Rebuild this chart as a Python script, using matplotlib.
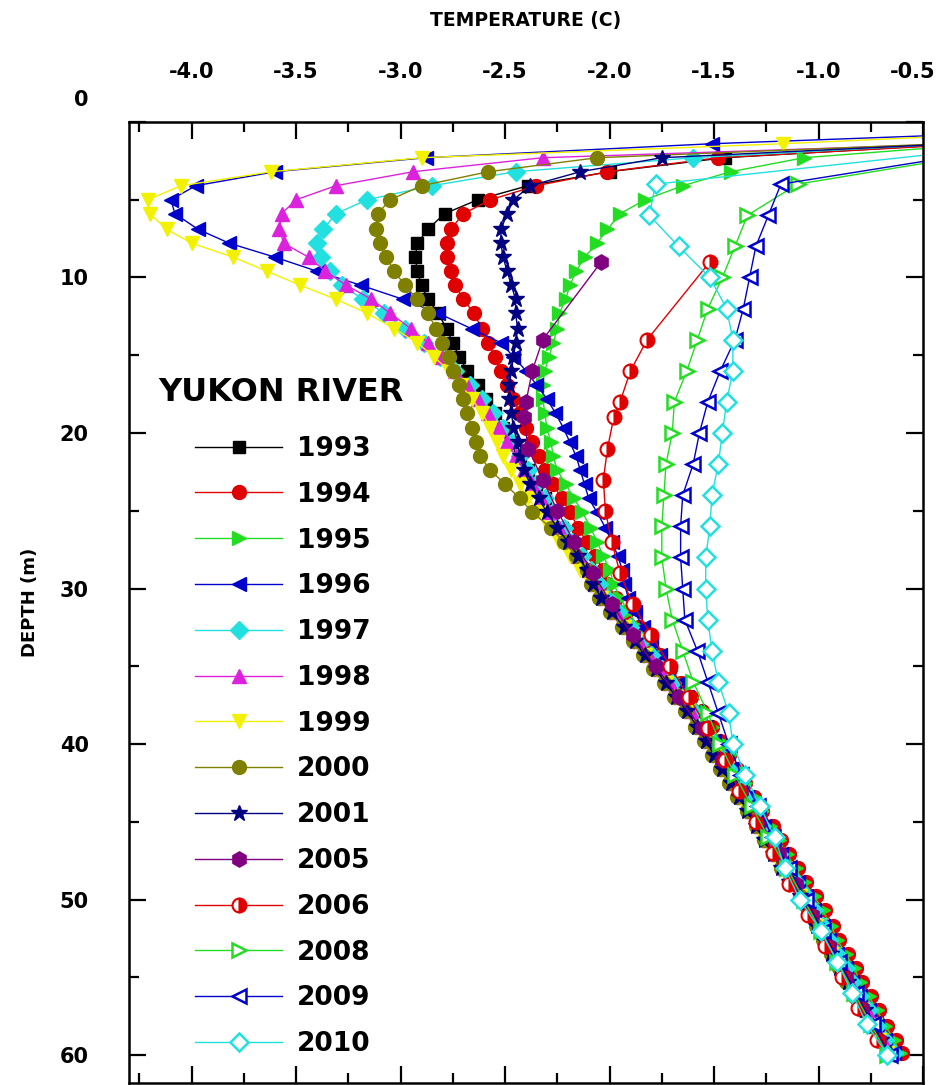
import matplotlib
matplotlib.use('Agg')
import matplotlib.pyplot as plt
from matplotlib.ticker import MultipleLocator, FixedLocator
from matplotlib.transforms import ScaledTranslation

plt.rcParams['font.family'] = ['DejaVu Sans']
plt.rcParams['font.weight'] = 'bold'
plt.rcParams['axes.unicode_minus'] = False

# sample depths (m)
depth_dense = [0.5, 1.4, 2.3, 3.2, 4.1, 5.0, 5.9, 6.9, 7.8, 8.7, 9.6, 10.5, 11.4, 12.3, 13.3, 14.2,
               15.1, 16.0, 16.9, 17.8, 18.7, 19.7, 20.6, 21.5, 22.4, 23.3, 24.2, 25.1, 26.1, 27.0, 27.9, 28.8,
               29.7, 30.6, 31.5, 32.5, 33.4, 34.3, 35.2, 36.1, 37.0, 37.9, 38.9, 39.8, 40.7, 41.6, 42.5, 43.4,
               44.3, 45.3, 46.2, 47.1, 48.0, 48.9, 49.8, 50.7, 51.7, 52.6, 53.5, 54.4, 55.3, 56.2, 57.1, 58.1,
               59.0, 59.9]
depth_0506 = [9, 14, 16, 18, 19, 21, 23, 25, 27, 29, 31, 33, 35, 37, 39, 41, 43, 45, 47, 49, 51, 53, 55, 57, 59]
depth_2m = [2, 4, 6, 8, 10, 12, 14, 16, 18, 20, 22, 24, 26, 28, 30, 32, 34, 36, 38, 40,
            42, 44, 46, 48, 50, 52, 54, 56, 58, 60]

# temperatures (C)
t_1993 = [0.5, -0.3, -1.45, -2.0, -2.39, -2.63, -2.79, -2.87, -2.92, -2.93, -2.92, -2.90, -2.87, -2.82, -2.78, -2.75,
          -2.72, -2.68, -2.63, -2.59, -2.55, -2.51, -2.47, -2.43, -2.39, -2.35, -2.31, -2.27, -2.23, -2.18, -2.14, -2.10,
          -2.07, -2.02, -1.97, -1.91, -1.86, -1.81, -1.76, -1.71, -1.66, -1.61, -1.56, -1.52, -1.48, -1.44, -1.40, -1.36,
          -1.32, -1.28, -1.24, -1.20, -1.16, -1.12, -1.07, -1.03, -0.99, -0.96, -0.92, -0.88, -0.85, -0.81, -0.77, -0.73,
          -0.69, -0.65]
t_1994 = [0.5, -0.25, -1.48, -2.01, -2.35, -2.57, -2.70, -2.76, -2.78, -2.78, -2.76, -2.74, -2.70, -2.65, -2.61, -2.58,
          -2.55, -2.52, -2.49, -2.46, -2.43, -2.40, -2.37, -2.34, -2.31, -2.27, -2.23, -2.19, -2.15, -2.11, -2.07, -2.03,
          -2.01, -1.97, -1.92, -1.86, -1.81, -1.76, -1.71, -1.66, -1.61, -1.56, -1.51, -1.47, -1.43, -1.39, -1.35, -1.31,
          -1.27, -1.22, -1.18, -1.14, -1.10, -1.06, -1.01, -0.97, -0.93, -0.90, -0.86, -0.82, -0.79, -0.75, -0.71, -0.67,
          -0.63, -0.60]
t_1995 = [0.6, -0.2, -1.07, -1.42, -1.65, -1.83, -1.95, -2.01, -2.06, -2.12, -2.16, -2.19, -2.21, -2.24, -2.25, -2.27,
          -2.29, -2.31, -2.32, -2.32, -2.31, -2.30, -2.28, -2.27, -2.25, -2.21, -2.17, -2.13, -2.09, -2.06, -2.03, -2.00,
          -1.98, -1.95, -1.91, -1.86, -1.81, -1.76, -1.71, -1.66, -1.61, -1.56, -1.51, -1.47, -1.43, -1.39, -1.35, -1.31,
          -1.27, -1.23, -1.19, -1.15, -1.11, -1.07, -1.02, -0.98, -0.94, -0.91, -0.87, -0.83, -0.80, -0.76, -0.72, -0.68,
          -0.64, -0.61]
t_1996 = [0.3, -1.51, -2.88, -3.60, -3.98, -4.10, -4.08, -3.97, -3.82, -3.60, -3.40, -3.19, -2.99, -2.82, -2.66, -2.52,
          -2.46, -2.40, -2.35, -2.30, -2.26, -2.22, -2.19, -2.16, -2.14, -2.12, -2.10, -2.06, -2.02, -1.99, -1.96, -1.94,
          -1.93, -1.91, -1.88, -1.84, -1.80, -1.76, -1.72, -1.67, -1.63, -1.58, -1.54, -1.50, -1.46, -1.42, -1.38, -1.34,
          -1.30, -1.26, -1.22, -1.18, -1.14, -1.10, -1.06, -1.02, -0.98, -0.95, -0.91, -0.87, -0.84, -0.80, -0.76, -0.72,
          -0.68, -0.64]
t_1997 = [0.4, -0.35, -1.60, -2.45, -2.85, -3.16, -3.31, -3.37, -3.40, -3.38, -3.34, -3.28, -3.18, -3.08, -2.98, -2.89,
          -2.81, -2.74, -2.67, -2.61, -2.56, -2.51, -2.47, -2.43, -2.39, -2.35, -2.31, -2.27, -2.22, -2.18, -2.13, -2.09,
          -2.05, -2.01, -1.96, -1.90, -1.85, -1.80, -1.75, -1.70, -1.65, -1.60, -1.55, -1.51, -1.47, -1.43, -1.39, -1.35,
          -1.31, -1.27, -1.23, -1.19, -1.15, -1.11, -1.06, -1.02, -0.98, -0.95, -0.91, -0.87, -0.84, -0.80, -0.76, -0.72,
          -0.68, -0.64]
t_1998 = [0.4, -0.3, -2.32, -2.94, -3.31, -3.50, -3.57, -3.58, -3.56, -3.44, -3.36, -3.26, -3.14, -3.05, -2.95, -2.87,
          -2.80, -2.74, -2.68, -2.63, -2.58, -2.53, -2.49, -2.45, -2.41, -2.37, -2.33, -2.29, -2.24, -2.19, -2.15, -2.10,
          -2.07, -2.02, -1.97, -1.91, -1.86, -1.81, -1.76, -1.71, -1.66, -1.61, -1.56, -1.52, -1.48, -1.44, -1.40, -1.36,
          -1.32, -1.28, -1.24, -1.20, -1.16, -1.12, -1.07, -1.03, -0.99, -0.96, -0.92, -0.88, -0.85, -0.81, -0.77, -0.73,
          -0.69, -0.65]
t_1999 = [0.3, -1.17, -2.90, -3.62, -4.05, -4.21, -4.20, -4.12, -4.00, -3.80, -3.64, -3.48, -3.31, -3.16, -3.03, -2.92,
          -2.84, -2.77, -2.71, -2.66, -2.61, -2.57, -2.54, -2.51, -2.47, -2.43, -2.39, -2.34, -2.29, -2.24, -2.19, -2.14,
          -2.09, -2.04, -1.99, -1.93, -1.88, -1.83, -1.78, -1.73, -1.68, -1.63, -1.58, -1.54, -1.50, -1.46, -1.42, -1.38,
          -1.34, -1.30, -1.26, -1.22, -1.18, -1.14, -1.09, -1.05, -1.01, -0.98, -0.94, -0.90, -0.87, -0.83, -0.79, -0.75,
          -0.71, -0.67]
t_2000 = [0.5, -0.4, -2.06, -2.58, -2.90, -3.05, -3.11, -3.12, -3.10, -3.07, -3.03, -2.98, -2.92, -2.87, -2.83, -2.80,
          -2.77, -2.75, -2.72, -2.70, -2.68, -2.66, -2.64, -2.62, -2.57, -2.50, -2.43, -2.37, -2.28, -2.22, -2.16, -2.11,
          -2.09, -2.05, -2.00, -1.94, -1.89, -1.84, -1.79, -1.74, -1.69, -1.64, -1.59, -1.55, -1.51, -1.47, -1.43, -1.39,
          -1.34, -1.30, -1.26, -1.22, -1.18, -1.14, -1.09, -1.05, -1.01, -0.98, -0.94, -0.90, -0.87, -0.83, -0.79, -0.75,
          -0.71, -0.67]
t_2001 = [0.5, -0.35, -1.75, -2.14, -2.38, -2.46, -2.49, -2.52, -2.52, -2.51, -2.49, -2.47, -2.45, -2.45, -2.44, -2.45,
          -2.46, -2.47, -2.48, -2.48, -2.47, -2.46, -2.44, -2.43, -2.41, -2.38, -2.34, -2.30, -2.25, -2.20, -2.15, -2.11,
          -2.08, -2.04, -1.99, -1.93, -1.88, -1.83, -1.78, -1.73, -1.68, -1.63, -1.58, -1.54, -1.50, -1.46, -1.42, -1.38,
          -1.34, -1.30, -1.26, -1.22, -1.18, -1.14, -1.09, -1.05, -1.01, -0.98, -0.94, -0.90, -0.86, -0.82, -0.78, -0.74,
          -0.70, -0.66]
t_2005 = [-2.04, -2.32, -2.37, -2.40, -2.41, -2.39, -2.32, -2.25, -2.17, -2.08, -1.99, -1.89, -1.78, -1.67, -1.56,
          -1.46, -1.37, -1.28, -1.19, -1.11, -1.03, -0.95, -0.87, -0.79, -0.71]
t_2006 = [-1.52, -1.82, -1.90, -1.95, -1.98, -2.01, -2.03, -2.02, -1.99, -1.95, -1.89, -1.80, -1.71, -1.62, -1.53,
          -1.45, -1.38, -1.30, -1.22, -1.14, -1.05, -0.97, -0.89, -0.81, -0.72]
t_2008 = [-0.2, -1.10, -1.34, -1.40, -1.46, -1.53, -1.58, -1.63, -1.69, -1.70, -1.73, -1.74, -1.75, -1.75, -1.73,
          -1.70, -1.65, -1.60, -1.53, -1.47, -1.40, -1.32, -1.24, -1.15, -1.07, -0.99, -0.91, -0.83, -0.75, -0.67]
t_2009 = [-0.25, -1.18, -1.24, -1.30, -1.33, -1.36, -1.40, -1.47, -1.53, -1.57, -1.60, -1.65, -1.66, -1.66, -1.65,
          -1.64, -1.58, -1.53, -1.48, -1.43, -1.37, -1.29, -1.22, -1.14, -1.06, -0.98, -0.90, -0.82, -0.74, -0.66]
t_2010 = [-0.4, -1.78, -1.81, -1.67, -1.52, -1.44, -1.41, -1.41, -1.44, -1.46, -1.48, -1.51, -1.52, -1.54, -1.54,
          -1.53, -1.51, -1.48, -1.43, -1.41, -1.35, -1.28, -1.21, -1.16, -1.09, -0.99, -0.91, -0.84, -0.77, -0.67]

years = ['1993', '1994', '1995', '1996', '1997', '1998', '1999', '2000', '2001', '2005', '2006', '2008', '2009', '2010']
x_ticks = [-4.0, -3.5, -3.0, -2.5, -2.0, -1.5, -1.0, -0.5]
y_ticks = [0, 10, 20, 30, 40, 50, 60]

fig = plt.figure(figsize=(9.43, 10.85), dpi=100)
ax = fig.add_axes([0.1368, 0.0018, 0.842, 0.8858])

red = '#e00000'
green = '#22dd22'
blue = '#0000cc'
cyan = '#22e0e0'

series = [
    (depth_dense, t_1993, dict(color='black', marker='s', ms=9)),
    (depth_dense, t_1994, dict(color=red, marker='o', ms=10)),
    (depth_dense, t_1995, dict(color=green, marker='>', ms=10)),
    (depth_dense, t_1996, dict(color=blue, marker='<', ms=10)),
    (depth_dense, t_1997, dict(color=cyan, marker='D', ms=9)),
    (depth_dense, t_1998, dict(color='#dd22dd', marker='^', ms=10)),
    (depth_dense, t_1999, dict(color='#f2f200', marker='v', ms=10)),
    (depth_dense, t_2000, dict(color='#808000', marker='o', ms=10)),
    (depth_dense, t_2001, dict(color='#000080', marker='*', ms=12)),
    (depth_0506, t_2005, dict(color='#800080', marker='h', ms=11)),
    (depth_0506, t_2006, dict(color=red, marker='o', ms=10, fillstyle='right',
                              markerfacecoloralt='white', mew=1.5)),
    (depth_2m, t_2008, dict(color=green, marker='>', ms=10, mfc='white', mew=1.8)),
    (depth_2m, t_2009, dict(color=blue, marker='<', ms=10, mfc='white', mew=1.8)),
    (depth_2m, t_2010, dict(color=cyan, marker='D', ms=9, mfc='white', mew=1.8)),
]

for (d, t, st), yr in zip(series, years):
    ax.plot(t, d, lw=1.0, label=yr, **st)

ax.set_xlim(-4.3, -0.5)
ax.set_ylim(61.8, 0)

ax.xaxis.set_major_locator(FixedLocator(x_ticks))
ax.xaxis.set_minor_locator(MultipleLocator(0.25))
ax.yaxis.set_major_locator(FixedLocator(y_ticks))
ax.yaxis.set_minor_locator(MultipleLocator(5))
ax.set_xticklabels([f'{v:.1f}' for v in x_ticks])
ax.set_yticklabels([str(v) for v in y_ticks])
ax.tick_params(which='both', direction='in', top=True, bottom=True, left=True, right=True,
               labeltop=True, labelbottom=False, width=1.6)
ax.tick_params(which='major', length=12, pad=29, labelsize=15)
ax.tick_params(which='minor', length=7)
for s in ax.spines.values():
    s.set_linewidth(1.8)

# nudge the corner labels like the original
last_x = ax.xaxis.get_major_ticks()[-1].label2
last_x.set_transform(last_x.get_transform() + ScaledTranslation(-10 / 100, 0, fig.dpi_scale_trans))
first_y = ax.yaxis.get_major_ticks()[0].label1
first_y.set_transform(first_y.get_transform() + ScaledTranslation(0, 24 / 100, fig.dpi_scale_trans))

ax.xaxis.set_label_position('top')
ax.set_xlabel('TEMPERATURE (C)', fontsize=13.5, fontweight='bold', labelpad=26)
ax.set_ylabel('DEPTH (m)', fontsize=13, fontweight='bold', labelpad=15)

ax.text(0.0365, 0.718, 'YUKON RIVER', transform=ax.transAxes, fontsize=23,
        fontweight='bold', ha='left', va='center')
ax.legend(loc='upper left', bbox_to_anchor=(0.0831, 0.6733), frameon=False,
          borderpad=0, borderaxespad=0, handlelength=3.3, handletextpad=0.55,
          labelspacing=0.75, numpoints=1, prop={'weight': 'bold', 'size': 19})

fig.savefig('out.png', dpi=100)
